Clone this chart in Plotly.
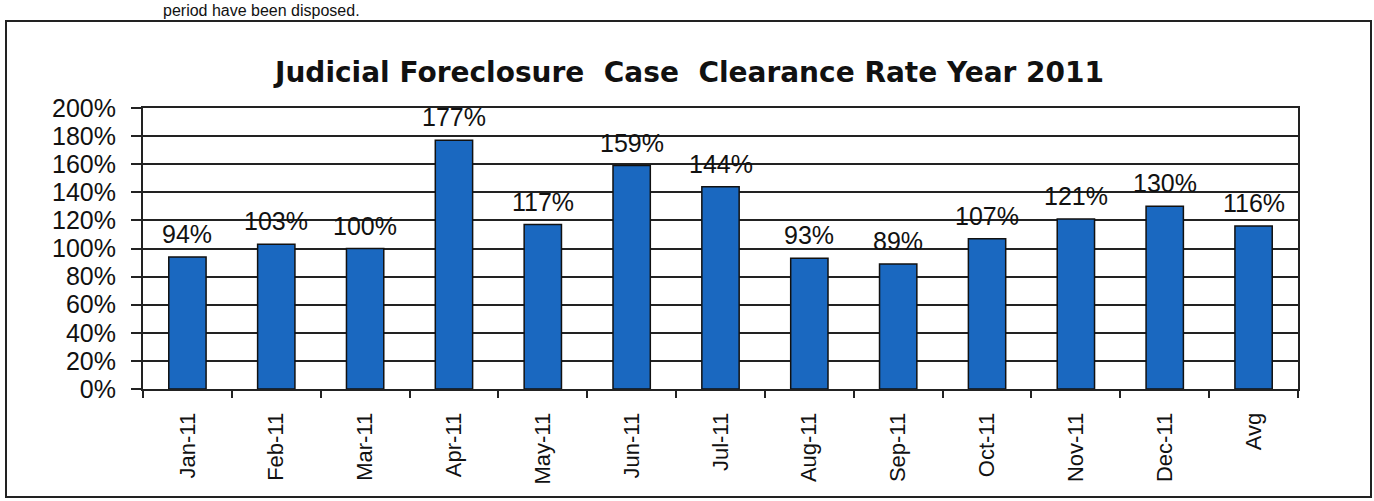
import plotly.graph_objects as go

months = ['Jan-11', 'Feb-11', 'Mar-11', 'Apr-11', 'May-11', 'Jun-11', 'Jul-11',
          'Aug-11', 'Sep-11', 'Oct-11', 'Nov-11', 'Dec-11', 'Avg']
clearance = [94, 103, 100, 177, 117, 159, 144, 93, 89, 107, 121, 130, 116]
y_ticks = list(range(0, 201, 20))

W, H = 1374, 501
ml, mr, mt, mb = 143, 76, 108, 112
pw, ph = W - ml - mr, H - mt - mb


def px_x(px):
    return (px - ml) / pw


def px_y(py):
    return (H - mb - py) / ph


fig = go.Figure()
fig.add_trace(go.Bar(
    x=months, y=clearance,
    marker=dict(color='#1a68c0', line=dict(color='#111111', width=1.5)),
    width=0.42, hoverinfo='skip'))

# data labels sit a little above each bar, like the Excel original
for m, v in zip(months, clearance):
    fig.add_annotation(x=m, y=v, text=f'{v}%', showarrow=False,
                       yanchor='bottom', yshift=7,
                       font=dict(family='Liberation Sans, Arial', size=25, color='#111'))

fig.add_annotation(xref='paper', yref='paper', x=px_x(688), y=px_y(72),
                   text='<b>Judicial Foreclosure  Case  Clearance Rate Year 2011</b>',
                   showarrow=False, xanchor='center', yanchor='middle',
                   font=dict(family='DejaVu Sans', size=28, color='#111'))

# line of page text above the chart box
fig.add_annotation(xref='paper', yref='paper', x=px_x(362), y=px_y(0),
                   text='period have been disposed.', showarrow=False,
                   xanchor='right', yanchor='top',
                   font=dict(family='Liberation Sans, Arial', size=16, color='#111'))

fig.add_shape(type='rect', xref='paper', yref='paper',
              x0=px_x(6), x1=px_x(1371), y0=px_y(497), y1=px_y(21),
              line=dict(color='#222', width=2), fillcolor='rgba(0,0,0,0)')

fig.update_layout(
    width=W, height=H,
    margin=dict(l=ml, r=mr, t=mt, b=mb),
    paper_bgcolor='white', plot_bgcolor='white',
    showlegend=False, bargap=0.58,
    font=dict(family='Liberation Sans, Arial', color='#111'),
    xaxis=dict(type='category', tickson='boundaries', ticks='outside', ticklen=7,
               tickwidth=2, tickcolor='#222', tickangle=-90,
               showline=True, linecolor='#222', linewidth=2, mirror=True,
               showgrid=False, tickfont=dict(size=22, color='#111'),
               ticklabelstandoff=13),
    yaxis=dict(range=[0, 200], tickvals=y_ticks,
               ticktext=[f'{t}%' for t in y_ticks],
               ticks='outside', ticklen=10, tickwidth=2, tickcolor='#222',
               showline=True, linecolor='#222', linewidth=2, mirror=True,
               showgrid=True, gridcolor='#222', gridwidth=2,
               ticklabelstandoff=10, tickfont=dict(size=25, color='#111')),
)

# the page body has a default 8px margin; drop it so the figure sits at 0,0
fig.write_html('out.html', config={'displayModeBar': False},
               post_script="document.body.style.margin='0';")
